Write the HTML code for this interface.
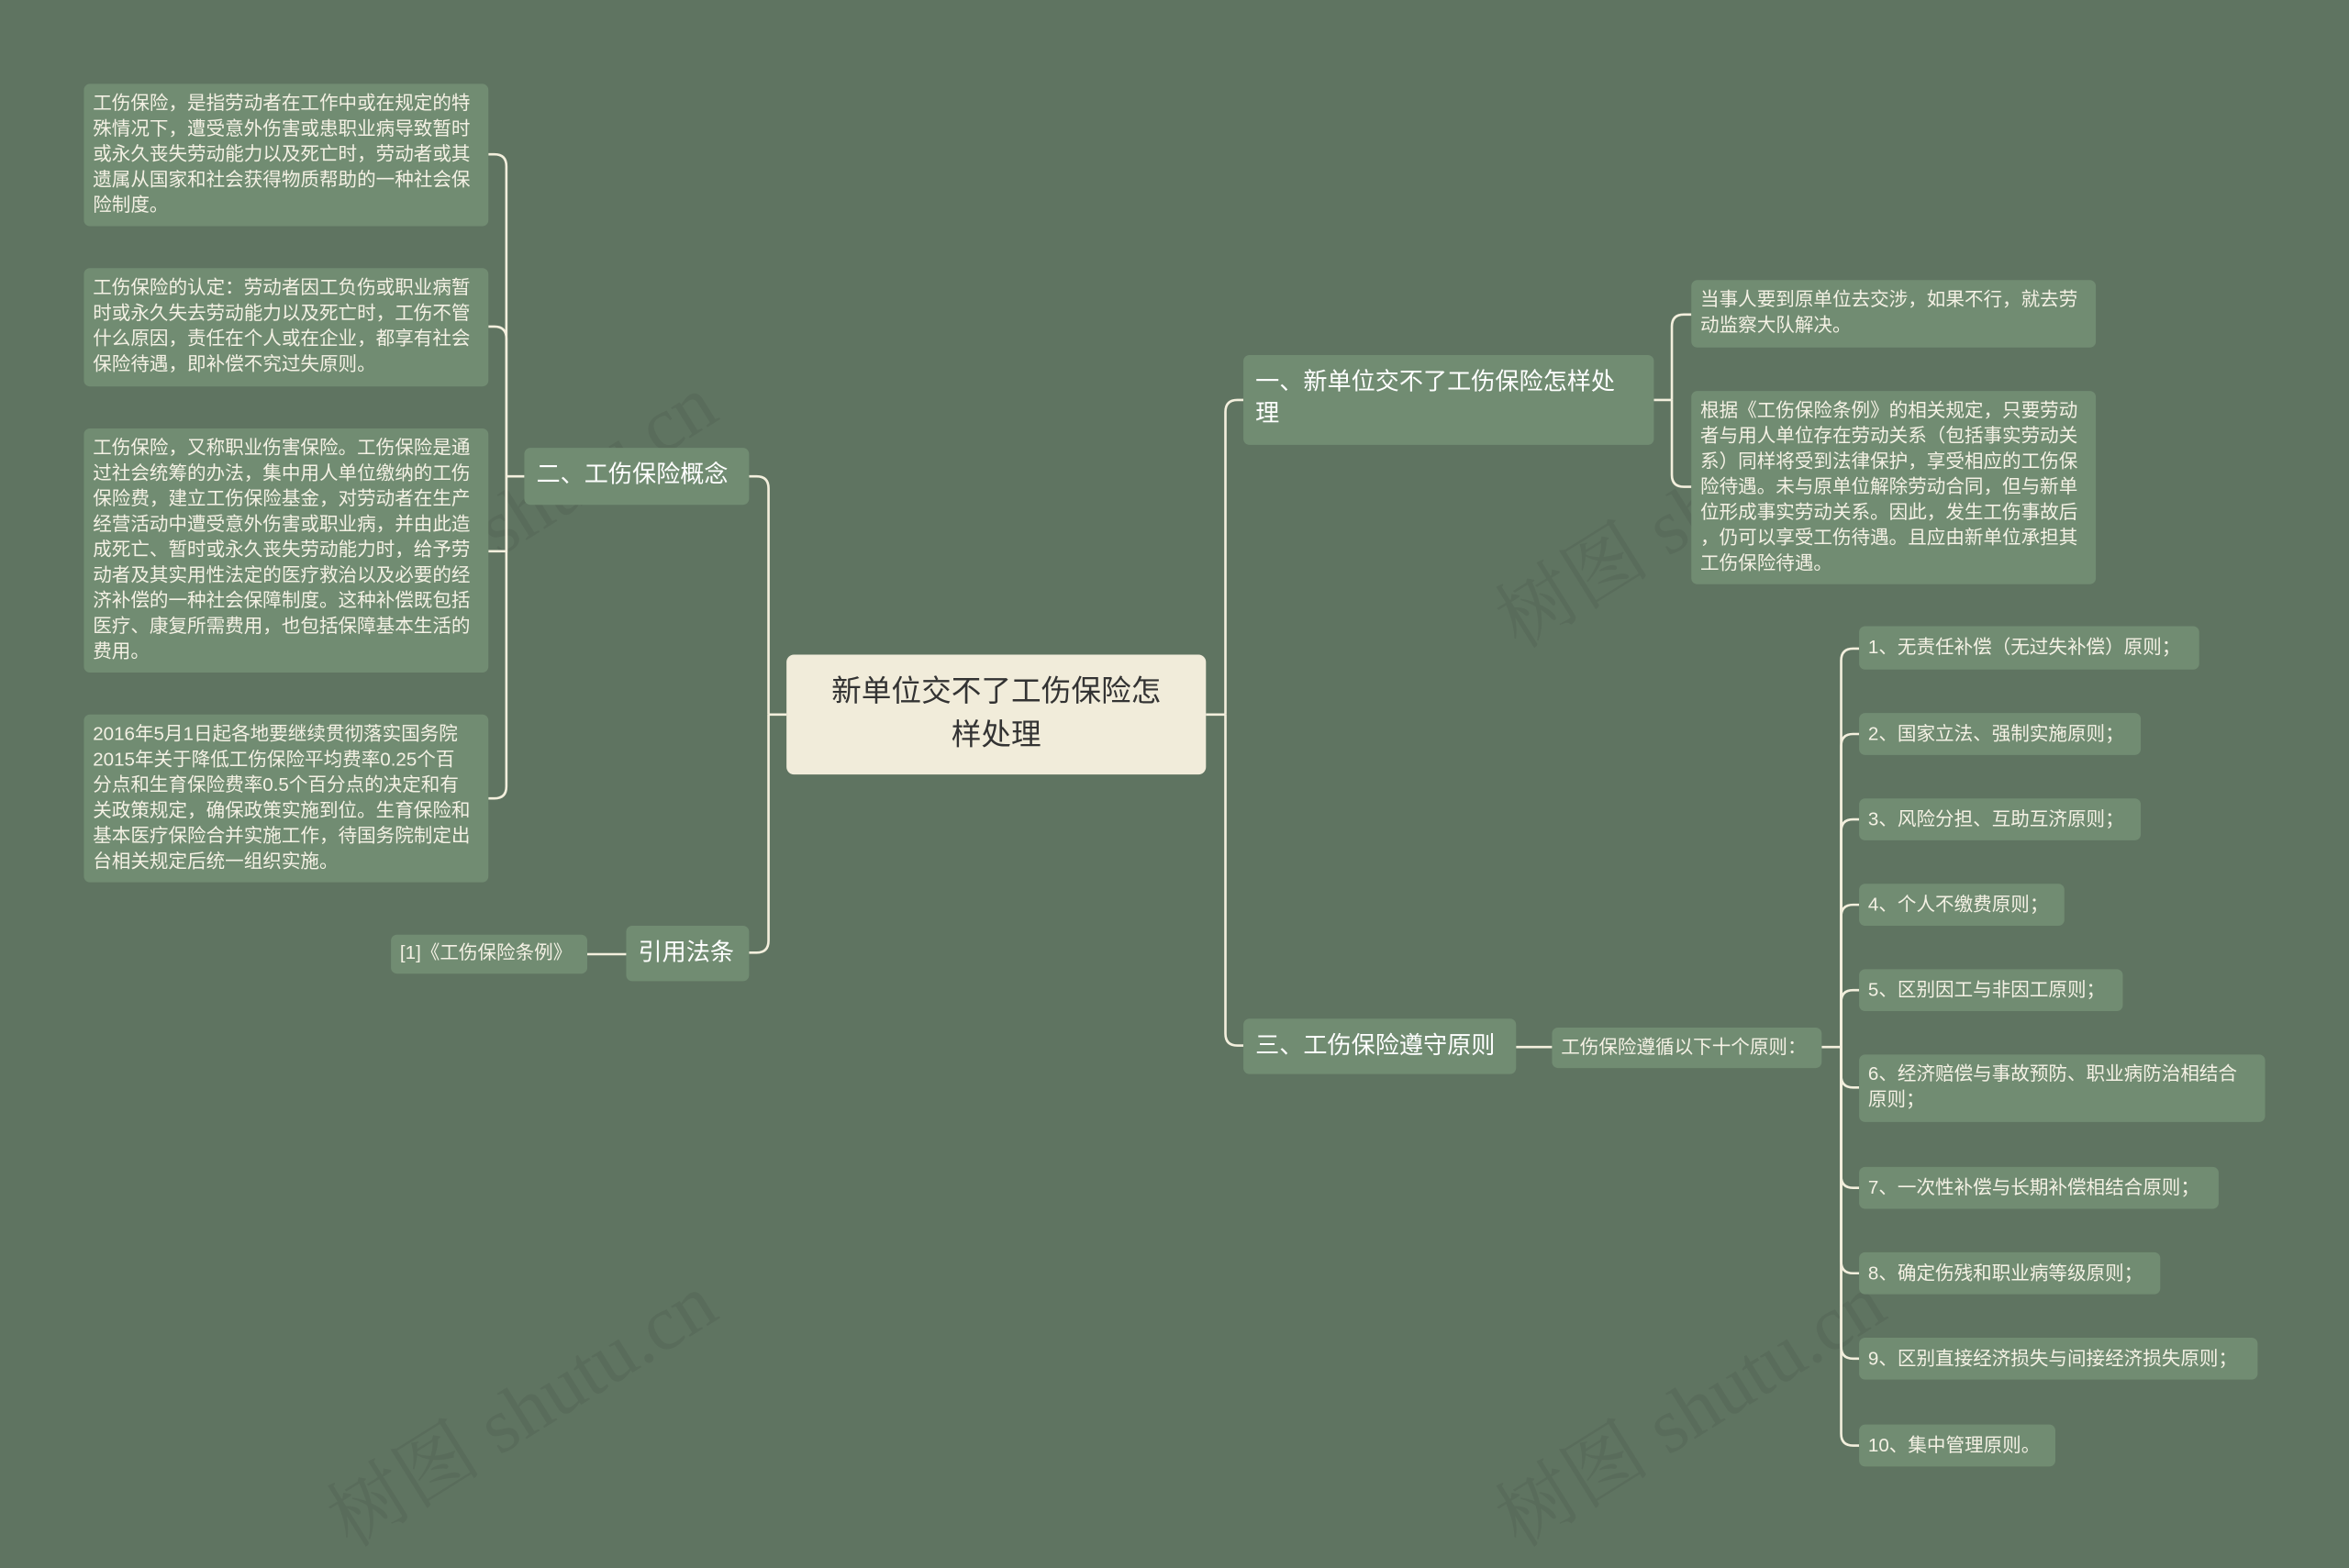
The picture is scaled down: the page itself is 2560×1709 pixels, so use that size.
<!DOCTYPE html>
<html><head><meta charset="utf-8"><style>
html,body{margin:0;padding:0;background:#5f7461;width:2560px;height:1689px;overflow:hidden}
#s{position:absolute;left:0;top:0;width:1568px;height:1035px;transform:scale(1.63265);transform-origin:0 0;font-family:"Liberation Sans","Noto Sans CJK SC",sans-serif}
.n{position:absolute;background:#718c72;color:#fff;border-radius:4px;box-sizing:border-box;white-space:nowrap}
.l{font-size:12.6px;line-height:17px;padding:5px 6px;color:#f4f1e4}
.b{font-size:16px;line-height:21px;padding:8px 8px;color:#fff}
.c{position:absolute;left:525px;top:437px;width:280px;height:80px;background:#f1ecda;border-radius:5px;color:#333;font-size:20px;line-height:29px;text-align:center;padding-top:11px;box-sizing:border-box}
.w{position:absolute;font-size:52px;color:rgba(80,95,80,0.35);transform:rotate(-32deg);font-family:"Liberation Serif","Noto Serif CJK SC",serif;white-space:nowrap}
svg{position:absolute;left:0;top:0}
</style></head><body><div id="s">
<div class="w" style="left:200px;top:300px">树图 shutu.cn</div>
<div class="w" style="left:980px;top:300px">树图 shutu.cn</div>
<div class="w" style="left:200px;top:900px">树图 shutu.cn</div>
<div class="w" style="left:980px;top:900px">树图 shutu.cn</div>
<svg width="1568" height="1035" fill="none" stroke="#f3efdd" stroke-width="1.6">
<path d="M805 477H818"/>
<path d="M818 477V275Q818 267 826 267H830"/>
<path d="M818 477V690Q818 698 826 698H830"/>
<path d="M525 477H513"/>
<path d="M513 477V326Q513 318 505 318H500"/>
<path d="M513 477V628Q513 636 505 636H500"/>
<path d="M418 637H392"/>
<path d="M350 318H338"/>
<path d="M338 318V111Q338 103 330 103H326"/>
<path d="M338 318V226Q338 218 330 218H326"/>
<path d="M338 318V368H326"/>
<path d="M338 318V525Q338 533 330 533H326"/>
<path d="M1104 267H1116"/>
<path d="M1116 267V218Q1116 210 1124 210H1129"/>
<path d="M1116 267V317Q1116 325 1124 325H1129"/>
<path d="M1012 699H1036"/>
<path d="M1216 699H1229"/>
<path d="M1229 699V441Q1229 433 1237 433H1241"/>
<path d="M1229 699V498Q1229 490 1237 490H1241"/>
<path d="M1229 699V555Q1229 547 1237 547H1241"/>
<path d="M1229 699V612Q1229 604 1237 604H1241"/>
<path d="M1229 699V669Q1229 661 1237 661H1241"/>
<path d="M1229 699V718Q1229 726 1237 726H1241"/>
<path d="M1229 699V785Q1229 793 1237 793H1241"/>
<path d="M1229 699V842Q1229 850 1237 850H1241"/>
<path d="M1229 699V899Q1229 907 1237 907H1241"/>
<path d="M1229 699V957Q1229 965 1237 965H1241"/>
</svg>
<div class="c">新单位交不了工伤保险怎<br>样处理</div>
<div class="n b" style="left:350px;top:299px;width:150px;height:38px">二、工伤保险概念</div>
<div class="n b" style="left:418px;top:618px;width:82px;height:37px">引用法条</div>
<div class="n l" style="left:261px;top:624px;width:131px;height:26px;padding-top:4px">[1]《工伤保险条例》</div>
<div class="n l" style="left:56px;top:56px;width:270px;height:95px">工伤保险，是指劳动者在工作中或在规定的特<br>殊情况下，遭受意外伤害或患职业病导致暂时<br>或永久丧失劳动能力以及死亡时，劳动者或其<br>遗属从国家和社会获得物质帮助的一种社会保<br>险制度。</div>
<div class="n l" style="left:56px;top:179px;width:270px;height:79px">工伤保险的认定：劳动者因工负伤或职业病暂<br>时或永久失去劳动能力以及死亡时，工伤不管<br>什么原因，责任在个人或在企业，都享有社会<br>保险待遇，即补偿不究过失原则。</div>
<div class="n l" style="left:56px;top:286px;width:270px;height:163px">工伤保险，又称职业伤害保险。工伤保险是通<br>过社会统筹的办法，集中用人单位缴纳的工伤<br>保险费，建立工伤保险基金，对劳动者在生产<br>经营活动中遭受意外伤害或职业病，并由此造<br>成死亡、暂时或永久丧失劳动能力时，给予劳<br>动者及其实用性法定的医疗救治以及必要的经<br>济补偿的一种社会保障制度。这种补偿既包括<br>医疗、康复所需费用，也包括保障基本生活的<br>费用。</div>
<div class="n l" style="left:56px;top:477px;width:270px;height:112px">2016年5月1日起各地要继续贯彻落实国务院<br>2015年关于降低工伤保险平均费率0.25个百<br>分点和生育保险费率0.5个百分点的决定和有<br>关政策规定，确保政策实施到位。生育保险和<br>基本医疗保险合并实施工作，待国务院制定出<br>台相关规定后统一组织实施。</div>
<div class="n b" style="left:830px;top:237px;width:274px;height:60px;padding-top:8px">一、新单位交不了工伤保险怎样处<br>理</div>
<div class="n b" style="left:830px;top:680px;width:182px;height:37px">三、工伤保险遵守原则</div>
<div class="n l" style="left:1129px;top:187px;width:270px;height:45px">当事人要到原单位去交涉，如果不行，就去劳<br>动监察大队解决。</div>
<div class="n l" style="left:1129px;top:261px;width:270px;height:129px">根据《工伤保险条例》的相关规定，只要劳动<br>者与用人单位存在劳动关系（包括事实劳动关<br>系）同样将受到法律保护，享受相应的工伤保<br>险待遇。未与原单位解除劳动合同，但与新单<br>位形成事实劳动关系。因此，发生工伤事故后<br>，仍可以享受工伤待遇。且应由新单位承担其<br>工伤保险待遇。</div>
<div class="n l" style="left:1036px;top:686px;width:180px;height:27px">工伤保险遵循以下十个原则：</div>
<div class="n l" style="left:1241px;top:418px;width:227px;height:29px;padding-top:6px">1、无责任补偿（无过失补偿）原则；</div>
<div class="n l" style="left:1241px;top:476px;width:188px;height:28px;padding-top:6px">2、国家立法、强制实施原则；</div>
<div class="n l" style="left:1241px;top:533px;width:188px;height:28px;padding-top:6px">3、风险分担、互助互济原则；</div>
<div class="n l" style="left:1241px;top:590px;width:137px;height:28px;padding-top:6px">4、个人不缴费原则；</div>
<div class="n l" style="left:1241px;top:647px;width:176px;height:28px;padding-top:6px">5、区别因工与非因工原则；</div>
<div class="n l" style="left:1241px;top:704px;width:271px;height:45px">6、经济赔偿与事故预防、职业病防治相结合<br>原则；</div>
<div class="n l" style="left:1241px;top:779px;width:240px;height:28px;padding-top:6px">7、一次性补偿与长期补偿相结合原则；</div>
<div class="n l" style="left:1241px;top:836px;width:201px;height:28px;padding-top:6px">8、确定伤残和职业病等级原则；</div>
<div class="n l" style="left:1241px;top:893px;width:266px;height:28px;padding-top:6px">9、区别直接经济损失与间接经济损失原则；</div>
<div class="n l" style="left:1241px;top:951px;width:131px;height:28px;padding-top:6px">10、集中管理原则。</div>
</div></body></html>
